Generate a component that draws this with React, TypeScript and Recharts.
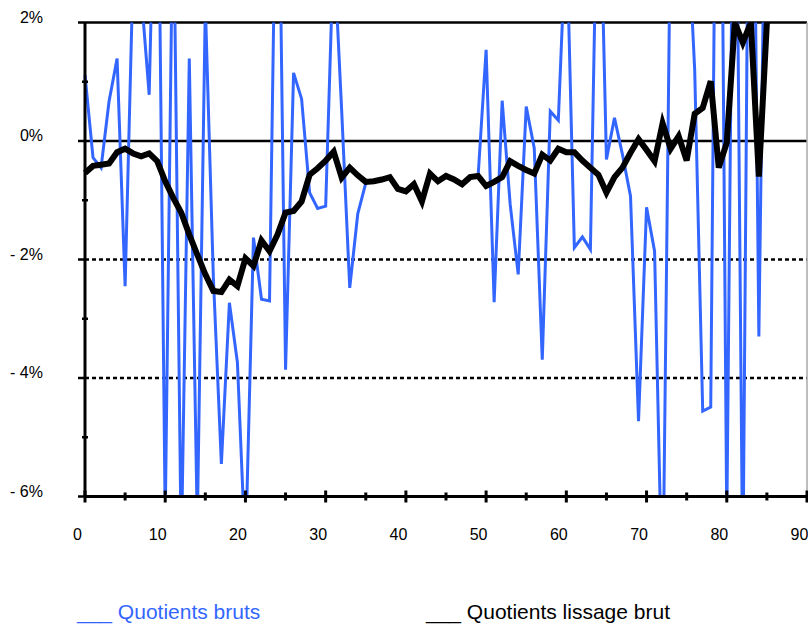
import { Line, LineChart, ReferenceLine, XAxis, YAxis } from "recharts";

// ages 0..85
const AGES = Array.from({ length: 86 }, (_, i) => i);

// raw quotients (% variation); values beyond the axis range are clipped
const QUOTIENTS_BRUTS = [
  1.11, -0.28, -0.45, 0.67, 1.39, -2.45, 2.9, 2.5, 0.78, 6.5,
  -6.4, 4.5, -7, 1.39, -6.5, 2.3, -2.3, -5.45, -2.73, -3.74,
  -7, -1.63, -2.67, -2.7, 6.5, -3.86, 1.15, 0.71, -0.87, -1.14,
  -1.1, 3.3, 0.5, -2.48, -1.23, -0.71, -0.68, -0.66, -0.62, -0.8,
  -0.85, -0.73, -1.0, -0.56, -0.68, -0.6, -0.65, -0.72, -0.62, -0.6,
  1.54, -2.72, 0.68, -1.07, -2.25, 0.58, -0.12, -3.69, 0.5, 0.35,
  3.65, -1.8, -1.62, -1.83, 5.5, -0.31, 0.39, -0.23, -0.93, -4.73,
  -1.12, -1.86, -8, 4, 4, 4, 1.2, -4.56, -4.49, 11,
  -6.5, 8, -7.5, 10, -3.3, 7,
];

// smoothed quotients
const QUOTIENTS_LISSAGE = [
  -0.54, -0.42, -0.4, -0.38, -0.19, -0.13, -0.21, -0.26, -0.21, -0.34,
  -0.68, -0.96, -1.21, -1.58, -1.92, -2.25, -2.53, -2.55, -2.34, -2.45,
  -1.98, -2.11, -1.68, -1.86, -1.58, -1.21, -1.18, -1.02, -0.57, -0.46,
  -0.33, -0.18, -0.62, -0.45, -0.58, -0.69, -0.68, -0.65, -0.61, -0.81,
  -0.85, -0.73, -1.02, -0.55, -0.68, -0.59, -0.65, -0.73, -0.61, -0.59,
  -0.76, -0.69, -0.61, -0.34, -0.42, -0.49, -0.55, -0.23, -0.33, -0.13,
  -0.19, -0.19, -0.33, -0.45, -0.57, -0.87, -0.61, -0.45, -0.2, 0.03,
  -0.15, -0.34, 0.3, -0.13, 0.08, -0.33, 0.46, 0.56, 1.01, -0.45,
  -0.03, 2.0, 1.66, 2.0, -0.6, 2.0,
];

const X_TICKS = [0, 5, 10, 15, 20, 25, 30, 35, 40, 45, 50, 55, 60, 65, 70, 75, 80, 85, 90];
const Y_TICKS = [-6, -5, -4, -3, -2, -1, 0, 1, 2];
const SOLID_GRID = [2, 0];
const DOTTED_GRID = [-2, -4];

const BLUE = "#3366ff";
const FONT = "'Liberation Sans', Arial, sans-serif";

const data = AGES.map((age, i) => ({
  age,
  brut: QUOTIENTS_BRUTS[i],
  lisse: QUOTIENTS_LISSAGE[i],
}));

const fmtPct = (v: number) => (v < 0 ? `- ${Math.abs(v)}%` : `${v}%`);

const YTick = ({ x, y, payload }: any) => {
  const major = Math.abs(payload.value) % 2 === 0;
  return (
    <g>
      <line
        x1={major ? x - 7 : x - 3}
        x2={major ? x : x + 3}
        y1={y}
        y2={y}
        stroke="#000"
        strokeWidth={2.5}
      />
      {major && (
        <text x={x - 42} y={y} textAnchor="end" fontSize={16} fontFamily={FONT} fill="#000">
          {fmtPct(payload.value)}
        </text>
      )}
    </g>
  );
};

const XTick = ({ x, y, payload }: any) => {
  const major = payload.value % 10 === 0;
  return (
    <g>
      <line
        x1={x}
        x2={x}
        y1={major ? y - 6 : y - 4}
        y2={major ? y + 6 : y + 4}
        stroke="#000"
        strokeWidth={3}
      />
      {major && (
        <text x={x - 7.5} y={y + 43.5} textAnchor="middle" fontSize={16} fontFamily={FONT} fill="#000">
          {payload.value}
        </text>
      )}
    </g>
  );
};

export default function App() {
  return (
    <div
      style={{
        position: "absolute",
        left: 0,
        top: 0,
        width: 808,
        height: 627,
        overflow: "hidden",
        background: "#fff",
      }}
    >
      <LineChart
        width={820}
        height={627}
        data={data}
        margin={{ top: 22.5, right: 13, bottom: 0, left: 0 }}
      >
        <XAxis
          dataKey="age"
          type="number"
          domain={[0, 90]}
          ticks={X_TICKS}
          height={130.5}
          tickSize={0}
          tickMargin={0}
          tickLine={false}
          tick={<XTick />}
          axisLine={{ stroke: "#000", strokeWidth: 3 }}
          interval={0}
        />
        <YAxis
          type="number"
          domain={[-6, 2]}
          ticks={Y_TICKS}
          allowDataOverflow
          width={85}
          tickSize={0}
          tickMargin={0}
          tickLine={false}
          tick={<YTick />}
          axisLine={{ stroke: "#000", strokeWidth: 3 }}
          interval={0}
        />
        {SOLID_GRID.map((v) => (
          <ReferenceLine key={v} y={v} stroke="#000" strokeWidth={2.5} />
        ))}
        {DOTTED_GRID.map((v) => (
          <ReferenceLine key={v} y={v} stroke="#000" strokeWidth={2.5} strokeDasharray="4 3" />
        ))}
        <ReferenceLine x={90} stroke="#a8a8a8" strokeWidth={1.5} />
        <Line
          type="linear"
          dataKey="brut"
          stroke={BLUE}
          strokeWidth={3}
          dot={false}
          isAnimationActive={false}
        />
        <Line
          type="linear"
          dataKey="lisse"
          stroke="#000"
          strokeWidth={6}
          dot={false}
          isAnimationActive={false}
        />
      </LineChart>
      <div
        style={{
          position: "absolute",
          left: 77,
          top: 600,
          fontFamily: FONT,
          fontSize: 21,
          lineHeight: "24px",
          color: BLUE,
          whiteSpace: "nowrap",
        }}
      >
        ___ Quotients bruts
      </div>
      <div
        style={{
          position: "absolute",
          left: 426,
          top: 600,
          fontFamily: FONT,
          fontSize: 21,
          lineHeight: "24px",
          color: "#000",
          whiteSpace: "nowrap",
        }}
      >
        ___ Quotients lissage brut
      </div>
    </div>
  );
}
